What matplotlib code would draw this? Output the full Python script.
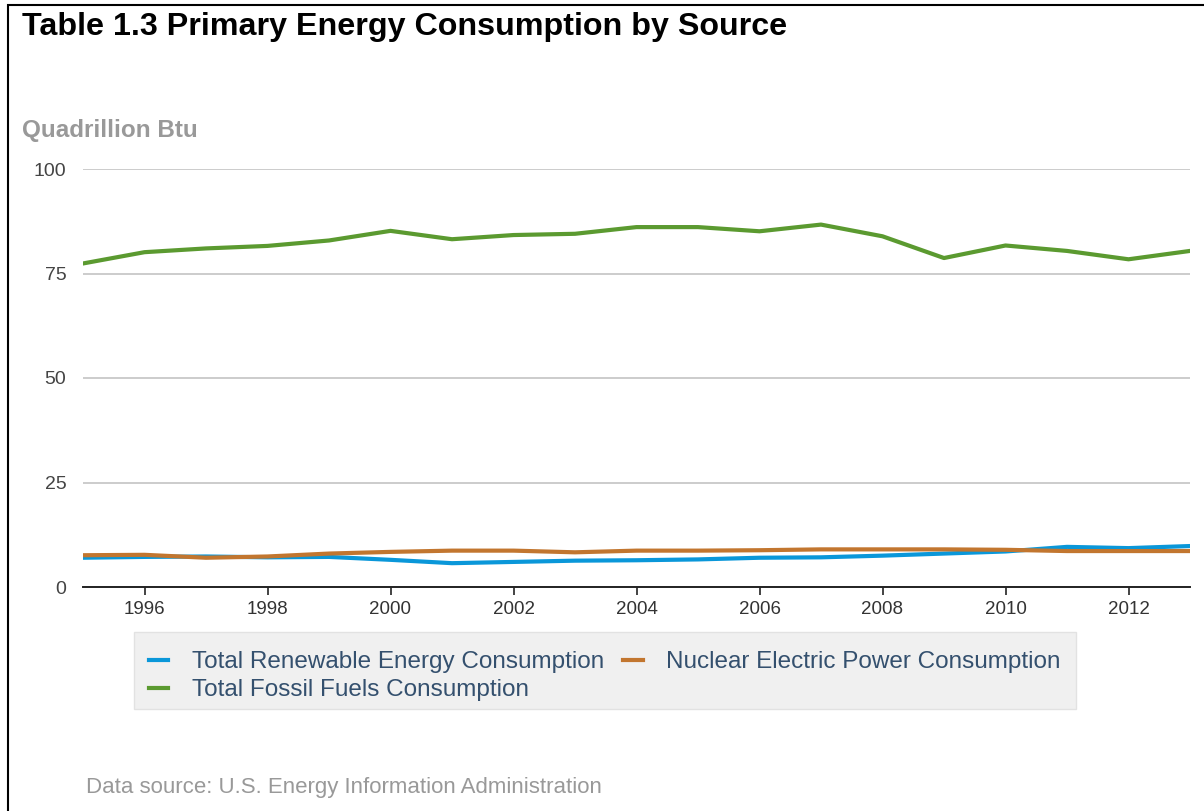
import numpy as np
import matplotlib.pyplot as plt
from matplotlib.patches import Rectangle

plt.rcParams['font.family'] = ['Liberation Sans', 'DejaVu Sans']

years = list(range(1995, 2014))
renewable = [7.0, 7.2, 7.3, 7.1, 7.2, 6.5, 5.7, 6.0, 6.3, 6.4, 6.6, 7.0, 7.1, 7.5, 8.0, 8.5, 9.6, 9.3, 9.8]
nuclear = [7.6, 7.7, 7.0, 7.3, 8.0, 8.4, 8.7, 8.7, 8.3, 8.7, 8.7, 8.8, 9.0, 9.0, 9.0, 8.9, 8.6, 8.6, 8.6]
fossil = [77.4, 80.1, 81.0, 81.6, 82.9, 85.2, 83.2, 84.2, 84.5, 86.1, 86.1, 85.1, 86.7, 83.9, 78.7, 81.7, 80.4, 78.4, 80.4]

labels = ["Total Renewable Energy Consumption",
          "Nuclear Electric Power Consumption",
          "Total Fossil Fuels Consumption"]
colors = ["#0a97d9", "#c2762f", "#5b9a30"]

W, H = 1204, 811
fig = plt.figure(figsize=(W / 100, H / 100), dpi=100)
ax = fig.add_axes([83 / W, 1 - 587 / H, (1190 - 83) / W, (587 - 169) / H])

l1, = ax.plot(years, renewable, color=colors[0], lw=3, solid_joinstyle='round', zorder=3)
l2, = ax.plot(years, nuclear, color=colors[1], lw=3, solid_joinstyle='round', zorder=3)
l3, = ax.plot(years, fossil, color=colors[2], lw=3, solid_joinstyle='round', zorder=3)

ax.set_xlim(1995, 2013)
ax.set_ylim(0, 100)
ax.set_yticks([0, 25, 50, 75, 100])
ax.set_xticks(range(1996, 2013, 2))
ax.yaxis.grid(True, color='#cccccc', lw=1.4)
ax.set_axisbelow(True)
for s in ['top', 'right', 'left']:
    ax.spines[s].set_visible(False)
ax.spines['bottom'].set_color('#222222')
ax.spines['bottom'].set_linewidth(1.4)
ax.spines['bottom'].set_zorder(4)
ax.tick_params(axis='y', length=0, pad=12, labelsize=14, labelcolor='#444444')
ax.tick_params(axis='x', length=6, width=1.2, color='#222222', pad=4,
               labelsize=13.5, labelcolor='#333333')

# title, unit, source
fig.text(22 / W, 1 - 27 / H, "Table 1.3 Primary Energy Consumption by Source",
         fontsize=23.2, fontweight='bold', color='black', va='center', ha='left')
fig.text(22 / W, 1 - 130 / H, "Quadrillion Btu", fontsize=17.5, fontweight='bold',
         color='#999999', va='center', ha='left')
fig.text(86 / W, 1 - 787 / H, "Data source: U.S. Energy Information Administration",
         fontsize=16, color='#999999', va='center', ha='left')

# legend box
fig.patches.append(Rectangle((134 / W, 1 - 709 / H), (1076 - 134) / W, (709 - 632) / H,
                             transform=fig.transFigure, facecolor='#f0f0f0',
                             edgecolor='#e2e2e2', lw=1, zorder=0))
fig.legend([l1, l3, l2], [labels[0], labels[2], labels[1]], ncol=2,
           loc='upper left', bbox_to_anchor=(149 / W, 1 - 651 / H), frameon=False,
           fontsize=17.5, labelcolor='#34506e', handlelength=0.8, handletextpad=0.95,
           columnspacing=0.8, labelspacing=0.25, borderaxespad=0, borderpad=0)

# outer border
fig.patches.append(Rectangle((8 / W, -0.1), 1.2, 1 - 5 / H + 0.1, transform=fig.transFigure,
                             facecolor='none', edgecolor='black', lw=1.5))

fig.savefig("out.png", dpi=100)
